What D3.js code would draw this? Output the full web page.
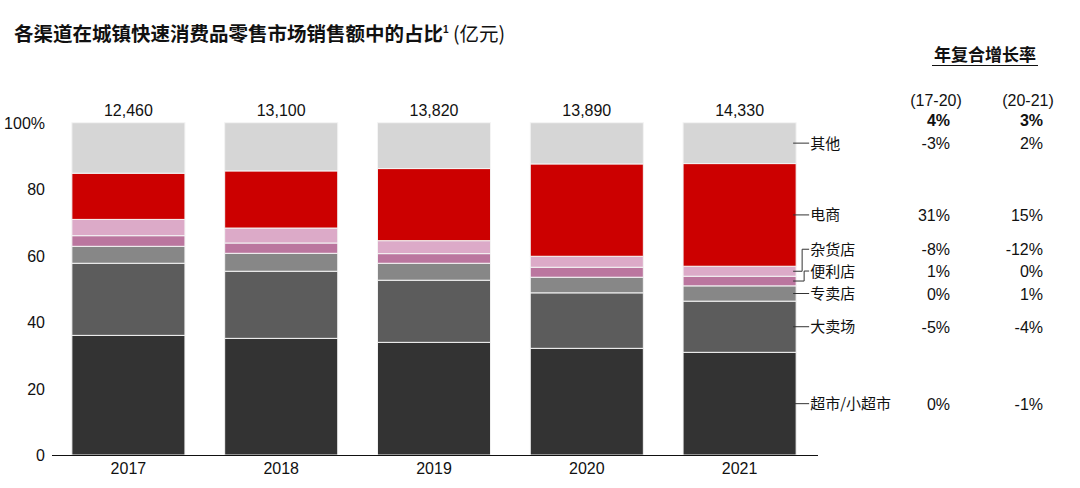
<!DOCTYPE html>
<html>
<head>
<meta charset="utf-8">
<script src="https://cdn.jsdelivr.net/npm/d3@7"></script>
<style>
  body { margin: 0; background: #fff; }
  svg text { font-family: "Liberation Sans", Arial, "Noto Sans CJK SC", sans-serif; fill: #111; }
</style>
</head>
<body>
<div id="chart"></div>
<script>
(() => {

// DATA
const years = ["2017", "2018", "2019", "2020", "2021"];
const totals = ["12,460", "13,100", "13,820", "13,890", "14,330"];
// channels, bottom to top
const channels = ["超市/小超市", "大卖场", "专卖店", "便利店", "杂货店", "电商", "其他"];
const supermarket = [36.0, 35.1, 33.9, 32.1, 30.9];
const hypermarket = [21.7, 20.2, 18.7, 16.7, 15.4];
const specialty   = [5.1, 5.4, 5.1, 4.7, 4.6];
const convenience = [3.2, 3.1, 2.9, 3.0, 2.9];
const grocery     = [4.9, 4.5, 3.9, 3.3, 3.0];
const ecommerce   = [13.9, 17.2, 21.7, 27.8, 30.9];
const others      = [15.2, 14.5, 13.8, 12.4, 12.3];
const cagrHeaders = ["(17-20)", "(20-21)"];
const cagrTotal = ["4%", "3%"];
const cagr1720 = ["0%", "-5%", "0%", "1%", "-8%", "31%", "-3%"];
const cagr2021 = ["-1%", "-4%", "1%", "0%", "-12%", "15%", "2%"];
const yTicks = [0, 20, 40, 60, 80, 100];

const series = [supermarket, hypermarket, specialty, convenience, grocery, ecommerce, others];
const colors = ["#333333", "#5c5c5c", "#878787", "#bb769f", "#dcaac8", "#cc0000", "#d6d6d6"];

// table for the stack
const rows = years.map((y, i) => {
  const r = { year: y };
  channels.forEach((c, j) => { r[c] = series[j][i]; });
  return r;
});

const width = 1080, height = 488;
const svg = d3.select("#chart").append("svg")
  .attr("width", width).attr("height", height);

const x = d3.scaleBand().domain(years).range([52, 816]).paddingInner(0.26).paddingOuter(0.13);
const y = d3.scaleLinear().domain([0, 100]).range([455, 122.7]);

const layers = d3.stack().keys(channels)(rows);

// title
const title = svg.append("text").attr("x", 14).attr("y", 41).style("font-size", "19.5px");
title.append("tspan").text("各渠道在城镇快速消费品零售市场销售额中的占比").style("font-weight", "bold")
  .style("font-family", "'Noto Sans CJK SC', sans-serif");
title.append("tspan").text("1").attr("dy", -8).style("font-size", "10px").style("font-weight", "bold");
title.append("tspan").text(" (亿元)").attr("dy", 8)
  .style("font-family", "'Noto Sans CJK SC', sans-serif").style("font-weight", "normal");

// bars
svg.append("g").selectAll("g")
  .data(layers)
  .join("g")
  .attr("fill", (d, i) => colors[i])
  .selectAll("rect")
  .data(d => d)
  .join("rect")
  .attr("x", d => x(d.data.year))
  .attr("width", x.bandwidth())
  .attr("y", d => y(d[1]))
  .attr("height", d => y(d[0]) - y(d[1]))
  .attr("stroke", "#f4f4f4")
  .attr("stroke-width", 1);

// baseline
svg.append("line")
  .attr("x1", 52).attr("x2", 818)
  .attr("y1", y(0) + 0.5).attr("y2", y(0) + 0.5)
  .attr("stroke", "#111").attr("stroke-width", 1);

// y tick labels
svg.append("g").selectAll("text")
  .data(yTicks)
  .join("text")
  .attr("x", 45)
  .attr("y", d => y(d) + 6)
  .attr("text-anchor", "end")
  .style("font-size", "16px")
  .text(d => d === 100 ? "100%" : d);

// year labels
svg.append("g").selectAll("text")
  .data(years)
  .join("text")
  .attr("x", d => x(d) + x.bandwidth() / 2)
  .attr("y", 474)
  .attr("text-anchor", "middle")
  .style("font-size", "16px")
  .text(d => d);

// totals
svg.append("g").selectAll("text")
  .data(years)
  .join("text")
  .attr("x", d => x(d) + x.bandwidth() / 2)
  .attr("y", 116)
  .attr("text-anchor", "middle")
  .style("font-size", "16px")
  .text((d, i) => totals[i]);

// right-side labels, at the middle of the last bar's segments
const last = years.length - 1;
const barRight = x(years[last]) + x.bandwidth();
const nudge = [0, 0, 0, -10, -22, 0, 0];
const elbow = [0, 0, 0, 8, 6, 0, 0];
const labelG = svg.append("g");
layers.forEach((layer, j) => {
  const seg = layer[last];
  const ym = y((seg[0] + seg[1]) / 2);
  const yl = ym + nudge[j];
  const path = nudge[j] === 0
    ? `M${barRight - 3},${ym}H${barRight + 13}`
    : `M${barRight - 3},${ym}H${barRight + elbow[j]}V${yl}H${barRight + 13}`;
  labelG.append("path").attr("d", path).attr("fill", "none")
    .attr("stroke", "#333").attr("stroke-width", 1);
  labelG.append("text")
    .attr("x", barRight + 14).attr("y", yl + 5.5)
    .style("font-size", "15px")
    .style("font-family", "'Noto Sans CJK SC', sans-serif")
    .text(channels[j]);
  // CAGR values
  labelG.append("text").attr("x", 950).attr("y", yl + 6)
    .attr("text-anchor", "end").style("font-size", "16px").text(cagr1720[j]);
  labelG.append("text").attr("x", 1043).attr("y", yl + 6)
    .attr("text-anchor", "end").style("font-size", "16px").text(cagr2021[j]);
});

// CAGR header
svg.append("text").attr("x", 985).attr("y", 61).attr("text-anchor", "middle")
  .style("font-size", "17px").style("font-weight", "bold")
  .style("font-family", "'Noto Sans CJK SC', sans-serif")
  .text("年复合增长率");
svg.append("line").attr("x1", 932).attr("x2", 1038).attr("y1", 65.5).attr("y2", 65.5)
  .attr("stroke", "#111").attr("stroke-width", 1);
[936, 1028].forEach((cx, i) => {
  svg.append("text").attr("x", cx).attr("y", 106).attr("text-anchor", "middle")
    .style("font-size", "16px").text(cagrHeaders[i]);
});
[950, 1043].forEach((rx, i) => {
  svg.append("text").attr("x", rx).attr("y", 126).attr("text-anchor", "end")
    .style("font-size", "16px").style("font-weight", "bold").text(cagrTotal[i]);
});

})();
</script>
</body>
</html>
